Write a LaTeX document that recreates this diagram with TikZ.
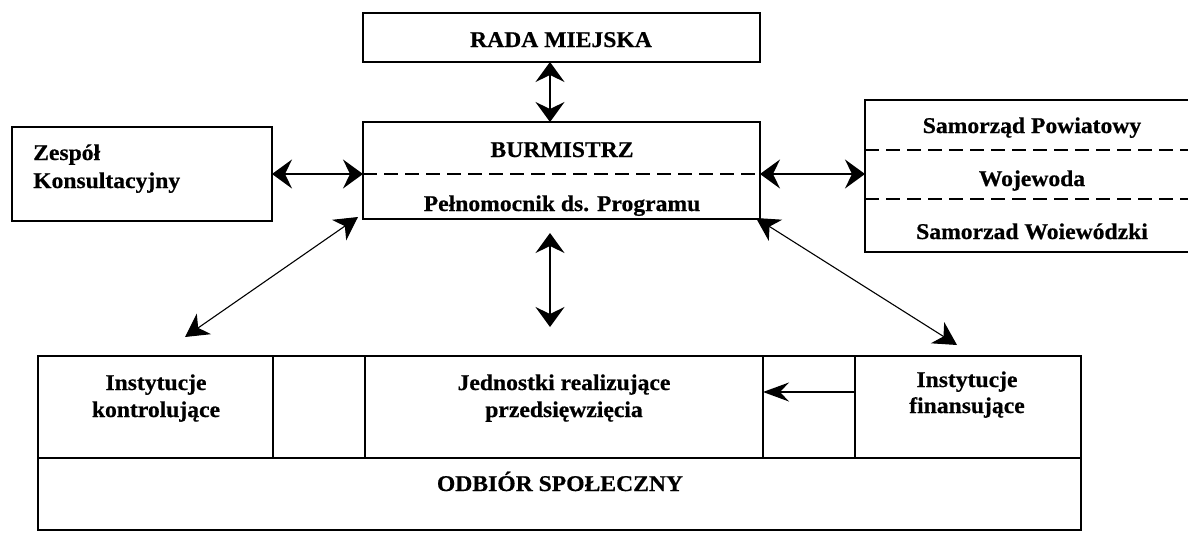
\documentclass[tikz,border=0pt]{standalone}
\usepackage{fontspec}
\setmainfont{Liberation Serif}[FakeStretch=1.05,BoldFeatures={FakeBold=0.6}]
\usetikzlibrary{arrows.meta}
\begin{document}
\begin{tikzpicture}[x=1pt,y=-1pt,
  box/.style={draw,line width=1.7pt,inner sep=0pt,outer sep=0pt},
  lbl/.style={font=\bfseries\fontsize{22.5}{24}\selectfont,inner sep=0pt,anchor=base},
  lbll/.style={lbl,anchor=base west},
  divline/.style={line width=1.6pt,dash pattern=on 14pt off 7pt},
  bigarr/.style={line width=1.4pt,{Stealth[length=20pt,width=29pt,inset=7pt]}-{Stealth[length=20pt,width=29pt,inset=7pt]}},
  diagarr/.style={line width=1.1pt,{Stealth[length=23pt,width=25pt,inset=7pt]}-{Stealth[length=23pt,width=25pt,inset=7pt]}},
  smallarr/.style={line width=1.4pt,-{Stealth[length=26pt,width=19pt,inset=9pt]}}]
\useasboundingbox (0,0) rectangle (1188,533);
\clip (0,0) rectangle (1188,533);
% boxes
\node[box,minimum width=397pt,minimum height=49pt] (rada) at (561.5,37.5) {};
\node[box,minimum width=397pt,minimum height=97pt] (burm) at (561.5,170.5) {};
\node[box,minimum width=260pt,minimum height=94pt] (zesp) at (142,174) {};
\node[box,minimum width=335pt,minimum height=152pt] (samo) at (1032.5,176) {};
\node[box,minimum width=235pt,minimum height=102pt] (kontr) at (155.5,407) {};
\node[box,minimum width=92pt,minimum height=102pt] (gapa) at (319,407) {};
\node[box,minimum width=398pt,minimum height=102pt] (jedn) at (564,407) {};
\node[box,minimum width=92pt,minimum height=102pt] (gapb) at (809,407) {};
\node[box,minimum width=226pt,minimum height=102pt] (fin) at (968,407) {};
\node[box,minimum width=1043pt,minimum height=72pt] (odb) at (559.5,494) {};
% dashed dividers
\draw[divline] (363,174) -- (760,174);
\draw[divline] (865,150) -- (1188,150);
\draw[divline] (865,199) -- (1188,199);
% texts
\node[lbl] (tRada) at (561,47) {RADA MIEJSKA};
\node[lbl] (tBurm) at (562,157) {BURMISTRZ};
\node[lbl] (tPeln) at (562,211) {Pełnomocnik ds. Programu};
\node[lbll] (tZes1) at (33,160) {Zespół};
\node[lbll] (tZes2) at (33,188) {Konsultacyjny};
\node[lbl] (tSam1) at (1032,133) {Samorząd Powiatowy};
\node[lbl] (tSam2) at (1032,186) {Wojewoda};
\node[lbl] (tSam3) at (1032,239) {Samorzad Woiewódzki};
\node[lbl] (tKon1) at (156,390) {Instytucje};
\node[lbl] (tKon2) at (156,417) {kontrolujące};
\node[lbl] (tJed1) at (564,390) {Jednostki realizujące};
\node[lbl] (tJed2) at (564,417) {przedsięwzięcia};
\node[lbl] (tFin1) at (967,387) {Instytucje};
\node[lbl] (tFin2) at (967,413) {finansujące};
\node[lbl] (tOdb) at (560,491) {ODBIÓR SPOŁECZNY};
% connectors
\coordinate (vx) at (550,0);
\coordinate (ay) at (0,392);
\coordinate (v1) at (550,233);
\coordinate (v2) at (550,327);
\coordinate (p1) at (358,217);
\coordinate (p2) at (185,337);
\coordinate (p3) at (756,218);
\coordinate (p4) at (957,345);
\draw[bigarr] (vx |- rada.south) -- (vx |- burm.north);
\draw[bigarr] (zesp.east) -- (zesp.east -| burm.west);
\draw[bigarr] (zesp.east -| burm.east) -- (zesp.east -| samo.west);
\draw[bigarr] (v1) -- (v2);
\draw[diagarr] (p1) -- (p2);
\draw[diagarr] (p3) -- (p4);
\draw[smallarr] (ay -| fin.west) -- (ay -| jedn.east);
\end{tikzpicture}
\end{document}
